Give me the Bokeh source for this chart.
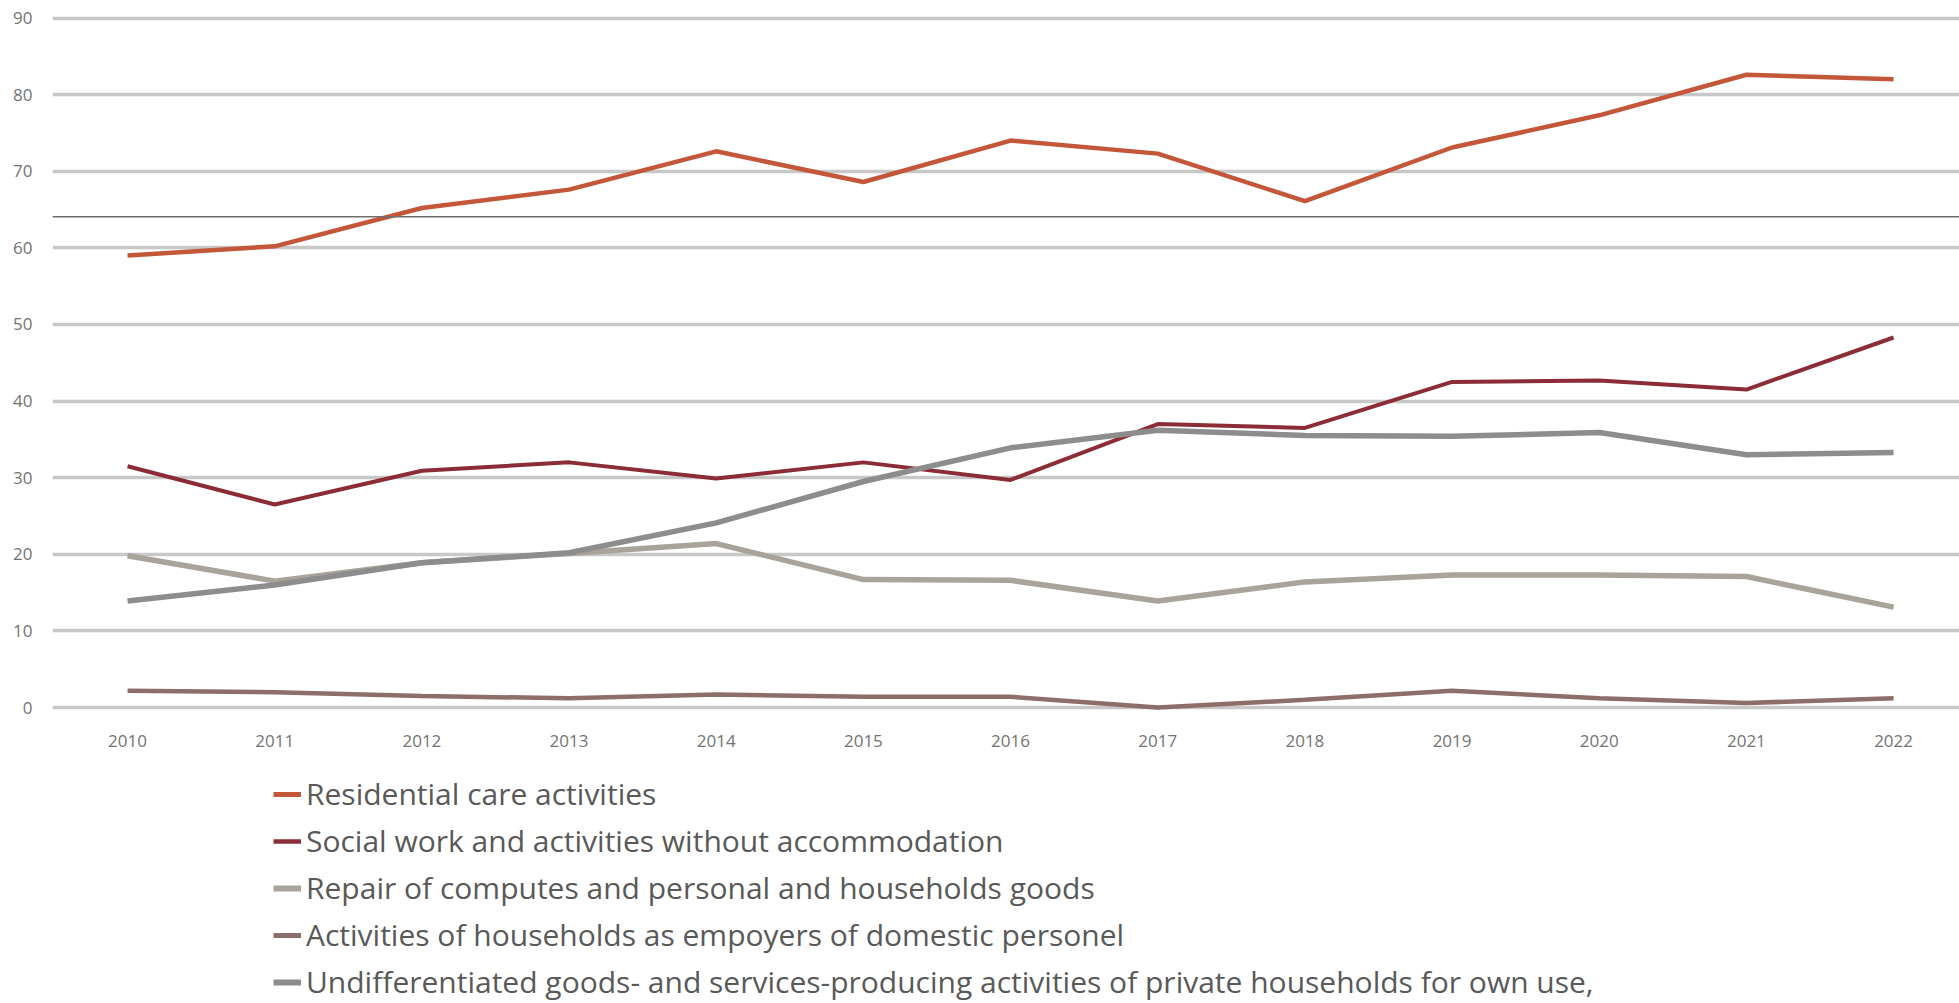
from bokeh.plotting import figure
from bokeh.layouts import column
from bokeh.models import Range1d, Legend, LegendItem, Span, FixedTicker
from bokeh.embed import file_html
from bokeh.resources import INLINE

years = [2010, 2011, 2012, 2013, 2014, 2015, 2016, 2017, 2018, 2019, 2020, 2021, 2022]
residential = [59.0, 60.2, 65.2, 67.6, 72.6, 68.6, 74.0, 72.3, 66.1, 73.1, 77.3, 82.6, 82.0]
social_work = [31.5, 26.5, 30.9, 32.0, 29.9, 32.0, 29.7, 37.0, 36.5, 42.5, 42.7, 41.5, 48.3]
repair = [19.8, 16.5, 18.9, 20.1, 21.4, 16.7, 16.6, 13.9, 16.4, 17.3, 17.3, 17.1, 13.1]
hh_employers = [2.2, 2.0, 1.5, 1.2, 1.7, 1.4, 1.4, 0.0, 1.0, 2.2, 1.2, 0.6, 1.2]
undifferentiated = [13.9, 16.0, 18.9, 20.2, 24.1, 29.5, 33.9, 36.2, 35.5, 35.4, 35.9, 33.0, 33.3]
y_ticks = [0, 10, 20, 30, 40, 50, 60, 70, 80, 90]

names = [
    "Residential care activities",
    "Social work and activities without accommodation",
    "Repair of computes and personal and households goods",
    "Activities of households as empoyers of domestic personel",
    "Undifferentiated goods- and services-producing activities of private households for own use,",
]
series = [residential, social_work, repair, hh_employers, undifferentiated]
colors = ["#C4573A", "#8C2C36", "#A9A49A", "#8E6E6A", "#8D8D8D"]
widths = [4.5, 4, 5.5, 4.5, 5.5]

p = figure(width=1959, height=755, output_backend="svg", toolbar_location=None,
           x_range=Range1d(2009.49, 2022.448), y_range=Range1d(-0.65, 90.46),
           min_border_left=52, min_border_right=0, min_border_top=14,
           min_border_bottom=43,
           outline_line_color=None, background_fill_color="white",
           border_fill_color="white")

p.xgrid.grid_line_color = None
p.ygrid.grid_line_color = "#C8C8C8"
p.ygrid.grid_line_width = 3.5
p.ygrid.ticker = FixedTicker(ticks=y_ticks)

p.yaxis.ticker = FixedTicker(ticks=y_ticks)
p.xaxis.ticker = FixedTicker(ticks=years)
for ax in (p.xaxis, p.yaxis):
    ax.axis_line_color = None
    ax.major_tick_line_color = None
    ax.minor_tick_line_color = None
    ax.major_label_text_color = "#737373"
    ax.major_label_text_font = "Open Sans"
    ax.major_label_text_font_size = "17px"
p.yaxis.major_label_standoff = 14
p.xaxis.major_label_standoff = 16

for ys, c, w in zip(series, colors, widths):
    p.line(years, ys, line_color=c, line_width=w)

p.add_layout(Span(location=64.07, dimension="width", line_color="#6E6E6E", line_width=1.5))

# legend panel (separate, axis-less figure); its lines lie outside its view
lg = figure(width=1959, height=248, output_backend="svg", toolbar_location=None,
            x_range=Range1d(0, 1), y_range=Range1d(0, 1),
            x_axis_location=None, y_axis_location=None,
            min_border_left=0, min_border_right=0, min_border_top=0, min_border_bottom=0,
            outline_line_color=None, border_fill_color="white", background_fill_color="white")
lg.grid.visible = False
items = []
for name, ys, c, w in zip(names, series, colors, widths):
    r = lg.line(years, ys, line_color=c, line_width=w + 0.5)
    items.append(LegendItem(label=name, renderers=[r]))

legend = Legend(items=items, location=(221, 1), orientation="vertical",
                label_text_font="Open Sans", label_text_font_size="30px",
                label_text_color="#595959", glyph_width=28, glyph_height=30,
                label_height=30, spacing=6, label_standoff=5, padding=0, margin=0,
                border_line_color=None, background_fill_alpha=0)
lg.add_layout(legend, "center")

layout = column(p, lg, spacing=0)
open("out.html", "w").write(file_html(layout, INLINE))
